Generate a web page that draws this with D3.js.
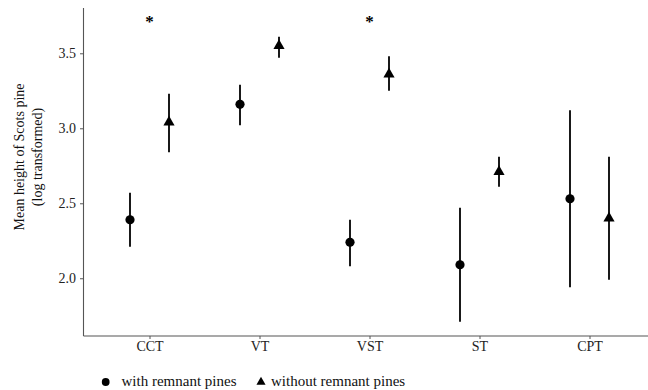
<!DOCTYPE html>
<html>
<head>
<meta charset="utf-8">
<script src="https://cdn.jsdelivr.net/npm/d3@7"></script>
<style>
  html, body { margin: 0; padding: 0; background: #fff; }
  svg { display: block; }
  text { font-family: "Liberation Serif", "Times New Roman", serif; }
</style>
</head>
<body>
<svg id="chart" width="648" height="390"></svg>
<script>
// Forest types on the x axis
const categories = ["CCT", "VT", "VST", "ST", "CPT"];

// Mean height (log transformed) with lower / upper interval, stands with remnant pines
const withMean  = [2.39, 3.16, 2.24, 2.09, 2.53];
const withLow   = [2.21, 3.02, 2.08, 1.71, 1.94];
const withHigh  = [2.57, 3.29, 2.39, 2.47, 3.12];

// Same for stands without remnant pines
const withoutMean = [3.04, 3.55, 3.36, 2.71, 2.40];
const withoutLow  = [2.84, 3.47, 3.25, 2.61, 1.99];
const withoutHigh = [3.23, 3.61, 3.48, 2.81, 2.81];

// Groups where the difference is significant
const significant = ["CCT", "VST"];
const sigLevel = 3.73;

const yTicks = [2.0, 2.5, 3.0, 3.5];
const legendLabels = ["with remnant pines", "without remnant pines"];

const svg = d3.select("#chart");
const plotLeft = 83.5, plotTop = 8, plotBottom = 336;

const x = d3.scalePoint().domain(categories).range([149.5, 589.5]);
const y = d3.scaleLinear().domain([1.615, 3.802]).range([plotBottom, plotTop]);
const dodge = 19.5;

const axisColor = "#555";

// y axis
const yAxis = svg.append("g")
  .attr("transform", `translate(${plotLeft},0)`)
  .call(d3.axisLeft(y).tickValues(yTicks).tickFormat(d3.format(".1f")).tickSize(3.5).tickPadding(4));
yAxis.select(".domain").attr("stroke", axisColor).attr("stroke-width", 1.1).attr("d", `M0,${plotTop}V${plotBottom}`);
yAxis.selectAll(".tick line").attr("stroke", axisColor);
yAxis.selectAll(".tick text").attr("fill", "#222").attr("font-size", 14)
  .style("font-family", "'Liberation Serif', serif");

// x axis
const xAxis = svg.append("g")
  .attr("transform", `translate(0,${plotBottom})`)
  .call(d3.axisBottom(x).tickSize(3).tickPadding(2));
xAxis.select(".domain").attr("stroke", axisColor).attr("stroke-width", 1.1).attr("d", `M${plotLeft},0H660`);
xAxis.selectAll(".tick line").attr("stroke", axisColor);
xAxis.selectAll(".tick text").attr("fill", "#222").attr("font-size", 14)
  .style("font-family", "'Liberation Serif', serif");

// y axis title
svg.append("text")
  .attr("transform", "translate(24,157) rotate(-90)")
  .attr("text-anchor", "middle")
  .attr("font-size", 14)
  .attr("fill", "#111")
  .call(t => {
    t.append("tspan").attr("x", 0).attr("dy", 0).text("Mean height of Scots pine");
    t.append("tspan").attr("x", 0).attr("dy", 18).text("(log transformed)");
  });

const rows = categories.map((c, i) => ({
  cat: c,
  wm: withMean[i], wl: withLow[i], wh: withHigh[i],
  om: withoutMean[i], ol: withoutLow[i], oh: withoutHigh[i]
}));

const tri = d3.symbol().type(d3.symbolTriangle).size(54);

// error bars
const bars = svg.append("g").attr("stroke", "#000").attr("stroke-width", 1.8);
bars.selectAll("line.w").data(rows).join("line")
  .attr("class", "w")
  .attr("x1", d => x(d.cat) - dodge).attr("x2", d => x(d.cat) - dodge)
  .attr("y1", d => y(d.wl)).attr("y2", d => y(d.wh));
bars.selectAll("line.o").data(rows).join("line")
  .attr("class", "o")
  .attr("x1", d => x(d.cat) + dodge).attr("x2", d => x(d.cat) + dodge)
  .attr("y1", d => y(d.ol)).attr("y2", d => y(d.oh));

// means
svg.append("g").selectAll("circle").data(rows).join("circle")
  .attr("cx", d => x(d.cat) - dodge).attr("cy", d => y(d.wm)).attr("r", 4.6).attr("fill", "#000");
svg.append("g").selectAll("path").data(rows).join("path")
  .attr("d", tri)
  .attr("transform", d => `translate(${x(d.cat) + dodge},${y(d.om)})`)
  .attr("fill", "#000");

// significance marks
svg.append("g").selectAll("text").data(significant).join("text")
  .attr("x", d => x(d)).attr("y", y(sigLevel) + 8)
  .attr("text-anchor", "middle").attr("font-size", 17).attr("font-weight", "bold")
  .text("*");

// legend
const lg = svg.append("g");
lg.append("circle").attr("cx", 105.7).attr("cy", 382).attr("r", 3.9).attr("fill", "#000");
lg.append("text").attr("x", 121.5).attr("y", 385.5).attr("font-size", 15).attr("fill", "#111").text(legendLabels[0]);
lg.append("path").attr("d", d3.symbol().type(d3.symbolTriangle).size(36)())
  .attr("transform", "translate(261,382)").attr("fill", "#000");
lg.append("text").attr("x", 271).attr("y", 385.5).attr("font-size", 15).attr("fill", "#111").text(legendLabels[1]);
</script>
</body>
</html>
